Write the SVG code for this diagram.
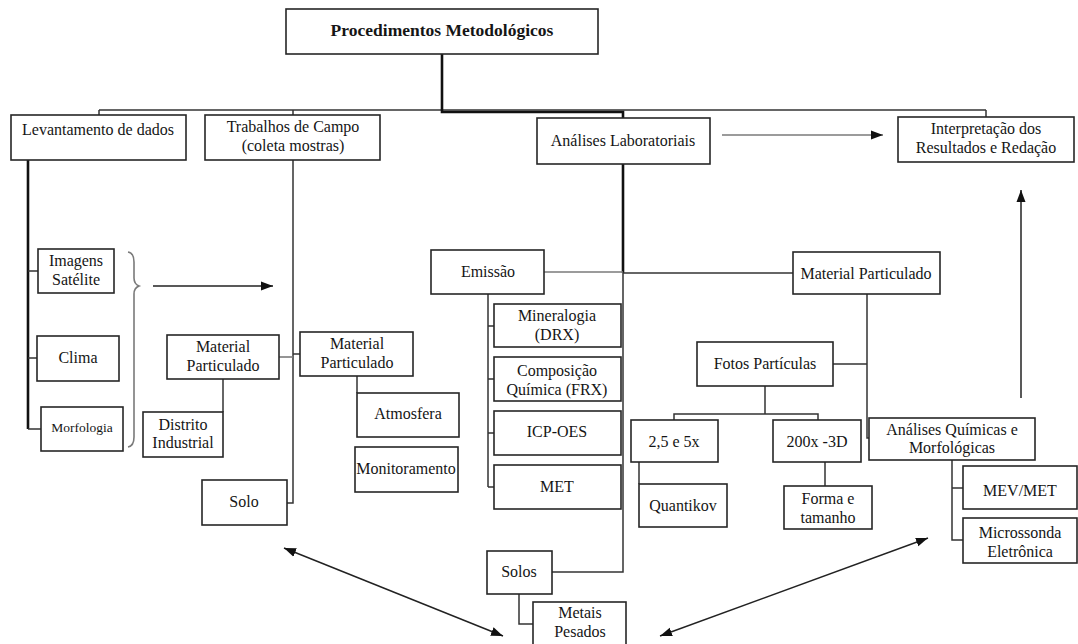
<svg xmlns="http://www.w3.org/2000/svg" width="1078" height="644" viewBox="0 0 1078 644">
<style>
.bg{fill:#fff}
.box{fill:#fff;stroke:#262626;stroke-width:1.6}
.t{font-family:"Liberation Serif","Times New Roman",serif;font-size:16px;fill:#151515;text-anchor:middle}
.b{font-weight:bold;font-size:17.5px}
.s{font-size:13.5px}
.c{fill:none;stroke:#333;stroke-width:1.5}
.g{fill:none;stroke:#7a7a7a;stroke-width:1.6}
.k{fill:none;stroke:#111;stroke-width:2.6}
.a{fill:none;stroke:#222;stroke-width:1.5}
</style>
<defs>
<marker id="ah" viewBox="0 0 12 10" refX="12" refY="5" markerWidth="12" markerHeight="10" markerUnits="userSpaceOnUse" orient="auto-start-reverse">
<path d="M0,0.5 L12,5 L0,9.5 Z" fill="#111"/>
</marker>
</defs>
<rect class="bg" x="0" y="0" width="1078" height="644"/>

<g id="connectors">
<path class="c" d="M99,110 H986"/>
<path class="c" d="M99,110 V115 M293,110 V115 M986,110 V117"/>
<path class="k" d="M442,54 V112 H623 V118"/>
<path class="k" d="M28,160 V429"/>
<path class="c" d="M28,271 H38 M28,358 H37 M28,429 H41"/>
<path class="c" d="M293,160 V503 H287"/>
<path class="g" d="M279,357 H293"/>
<path class="c" d="M293,354 H300"/>
<path class="c" d="M223,379 V412"/>
<path class="c" d="M357,376 V393"/>
<path class="k" d="M623,164 V273"/>
<path class="c" d="M623,273 V572 H552"/>
<path class="g" d="M544,272 H623"/>
<path class="c" d="M623,273 H793"/>
<path class="c" d="M488,294 V487 M488,326 H494 M488,379 H494 M488,433 H494 M488,487 H494"/>
<path class="c" d="M519,594 V624 H533"/>
<path class="c" d="M867,294 V438 H869 M833,364 H867"/>
<path class="c" d="M765,386 V414 M674,420 V414 H818 V420"/>
<path class="c" d="M639,462 V484 M825,462 V486"/>
<path class="c" d="M952,460 V540 H963 M952,488 H963"/>
<path class="g" d="M128,252 Q134,253 134,262 L134,278 Q134,284 139,286 Q134,288 134,294 L134,437 Q134,446 128,447"/>
<path class="g" d="M722,135 H883" marker-end="url(#ah)"/>
<path class="a" d="M1021,398 V190" marker-end="url(#ah)"/>
<path class="a" d="M153,286 H273" marker-end="url(#ah)"/>
<path class="a" d="M284,548 L503,636" marker-start="url(#ah)" marker-end="url(#ah)"/>
<path class="a" d="M660,636 L928,538" marker-start="url(#ah)" marker-end="url(#ah)"/>
</g>

<g id="n-procedimentos"><rect class="box" x="286" y="9" width="312" height="45"/><text class="t b" x="442" y="36">Procedimentos Metodológicos</text></g>
<g id="n-levantamento"><rect class="box" x="11" y="115" width="175" height="45"/><text class="t" x="98" y="135">Levantamento de dados</text></g>
<g id="n-trabalhos"><rect class="box" x="205" y="115" width="175" height="45"/><text class="t" x="293" y="132">Trabalhos de Campo</text><text class="t" x="293" y="151">(coleta mostras)</text></g>
<g id="n-analises"><rect class="box" x="537" y="118" width="173" height="46"/><text class="t" x="623" y="146">Análises Laboratoriais</text></g>
<g id="n-interpretacao"><rect class="box" x="898" y="117" width="176" height="45"/><text class="t" x="986" y="134">Interpretação dos</text><text class="t" x="986" y="153">Resultados e Redação</text></g>

<g id="n-imagens"><rect class="box" x="38" y="249" width="76" height="44"/><text class="t" x="76" y="266">Imagens</text><text class="t" x="76" y="285">Satélite</text></g>
<g id="n-clima"><rect class="box" x="37" y="336" width="82" height="45"/><text class="t" x="78" y="363">Clima</text></g>
<g id="n-morfologia"><rect class="box" x="41" y="407" width="82" height="44"/><text class="t s" x="82" y="432">Morfologia</text></g>

<g id="n-mp-left"><rect class="box" x="167" y="335" width="112" height="44"/><text class="t" x="223" y="352">Material</text><text class="t" x="223" y="371">Particulado</text></g>
<g id="n-mp-campo"><rect class="box" x="300" y="332" width="113" height="44"/><text class="t" x="357" y="349">Material</text><text class="t" x="357" y="368">Particulado</text></g>
<g id="n-distrito"><rect class="box" x="143" y="412" width="80" height="45"/><text class="t" x="183" y="430">Distrito</text><text class="t" x="183" y="448">Industrial</text></g>
<g id="n-atmosfera"><rect class="box" x="357" y="393" width="102" height="44"/><text class="t" x="408" y="419">Atmosfera</text></g>
<g id="n-monitoramento"><rect class="box" x="355" y="447" width="103" height="45"/><text class="t" x="406" y="474">Monitoramento</text></g>
<g id="n-solo"><rect class="box" x="202" y="480" width="85" height="45"/><text class="t" x="244" y="507">Solo</text></g>

<g id="n-emissao"><rect class="box" x="431" y="250" width="113" height="44"/><text class="t" x="488" y="277">Emissão</text></g>
<g id="n-mineralogia"><rect class="box" x="494" y="304" width="127" height="43"/><text class="t" x="557" y="321">Mineralogia</text><text class="t" x="557" y="340">(DRX)</text></g>
<g id="n-composicao"><rect class="box" x="494" y="357" width="127" height="44"/><text class="t" x="557" y="376">Composição</text><text class="t" x="557" y="395">Química (FRX)</text></g>
<g id="n-icp"><rect class="box" x="494" y="411" width="127" height="44"/><text class="t" x="557" y="437">ICP-OES</text></g>
<g id="n-met"><rect class="box" x="494" y="465" width="127" height="44"/><text class="t" x="557" y="492">MET</text></g>
<g id="n-solos"><rect class="box" x="487" y="551" width="65" height="43"/><text class="t" x="519" y="577">Solos</text></g>
<g id="n-metais"><rect class="box" x="533" y="602" width="93" height="50"/><text class="t" x="580" y="618">Metais</text><text class="t" x="580" y="637">Pesados</text></g>

<g id="n-mp-lab"><rect class="box" x="793" y="252" width="147" height="42"/><text class="t" x="866" y="279">Material Particulado</text></g>
<g id="n-fotos"><rect class="box" x="697" y="342" width="136" height="44"/><text class="t" x="765" y="369">Fotos Partículas</text></g>
<g id="n-25"><rect class="box" x="631" y="420" width="87" height="42"/><text class="t" x="674" y="447">2,5 e 5x</text></g>
<g id="n-200x"><rect class="box" x="773" y="420" width="88" height="42"/><text class="t" x="817" y="447">200x -3D</text></g>
<g id="n-quantikov"><rect class="box" x="639" y="484" width="88" height="43"/><text class="t" x="683" y="511">Quantikov</text></g>
<g id="n-forma"><rect class="box" x="784" y="486" width="88" height="43"/><text class="t" x="828" y="504">Forma e</text><text class="t" x="828" y="523">tamanho</text></g>
<g id="n-aqm"><rect class="box" x="869" y="418" width="166" height="42"/><text class="t" x="952" y="435">Análises Químicas e</text><text class="t" x="952" y="453">Morfológicas</text></g>
<g id="n-mev"><rect class="box" x="963" y="466" width="114" height="43"/><text class="t" x="1020" y="496">MEV/MET</text></g>
<g id="n-microssonda"><rect class="box" x="963" y="518" width="114" height="45"/><text class="t" x="1020" y="538">Microssonda</text><text class="t" x="1020" y="557">Eletrônica</text></g>
</svg>
